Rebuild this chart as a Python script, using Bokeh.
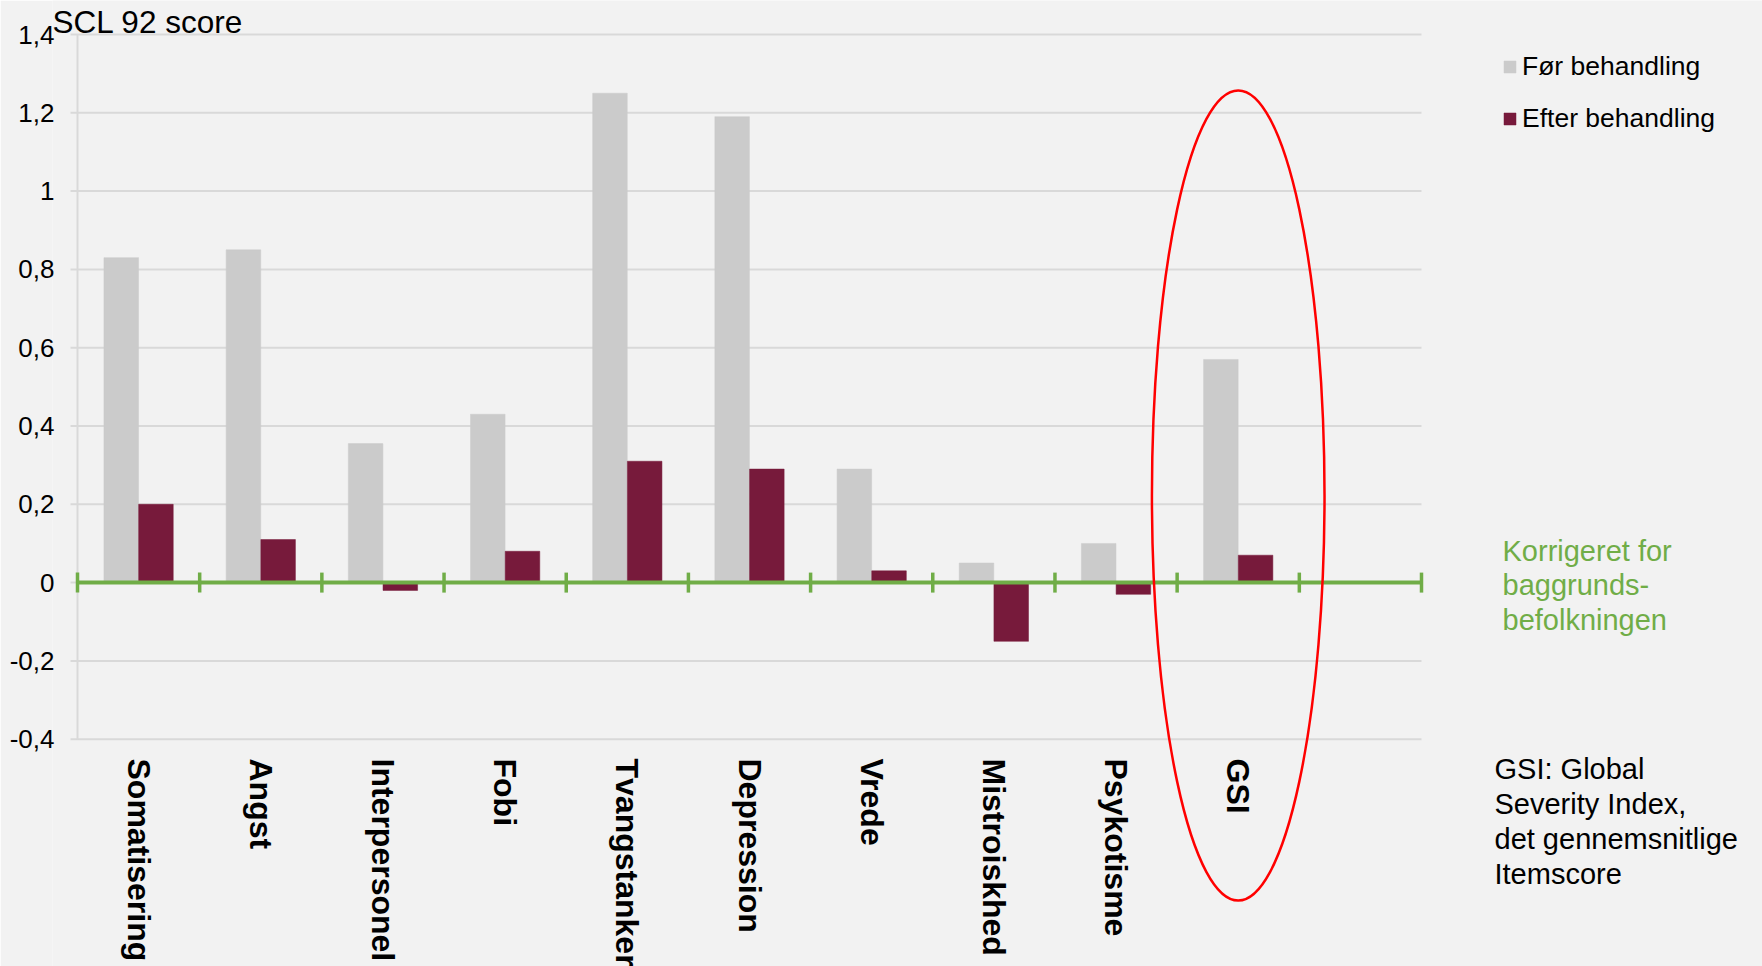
import math
from bokeh.plotting import figure
from bokeh.models import Range1d, FixedTicker, Label, Legend, LegendItem
from bokeh.core.properties import value
from bokeh.embed import file_html
from bokeh.resources import INLINE

# ---------------- data ----------------
categories = ["Somatisering", "Angst", "Interpersonel", "Fobi", "Tvangstanker",
              "Depression", "Vrede", "Mistroiskhed", "Psykotisme", "GSI"]
foer_behandling = [0.83, 0.85, 0.355, 0.43, 1.25, 1.19, 0.29, 0.05, 0.10, 0.57]
efter_behandling = [0.20, 0.11, -0.02, 0.08, 0.31, 0.29, 0.03, -0.15, -0.03, 0.07]
series_names = ["Før behandling", "Efter behandling"]
y_ticks = [-0.4, -0.2, 0.0, 0.2, 0.4, 0.6, 0.8, 1.0, 1.2, 1.4]
y_tick_labels = ["-0,4", "-0,2", "0", "0,2", "0,4", "0,6", "0,8", "1", "1,2", "1,4"]
highlight = "GSI"
n_slots = 11  # Excel category axis has one empty trailing slot

# ---------------- layout ----------------
W, H = 1762, 966
FRAME_LEFT = 52        # frame starts here so the chart title is not clipped
PLOT_LEFT = 77         # pixel column of the value axis line
PX_TOP, PX_BOT = 34.0, 738.7           # pixel rows of 1.4 and -0.4
ppu_y = (PX_BOT - PX_TOP) / (y_ticks[-1] - y_ticks[0])
ppu_x = (1421.0 - PLOT_LEFT) / n_slots
y_start = y_ticks[0] - (H - PX_BOT) / ppu_y
y_end = y_ticks[-1] + PX_TOP / ppu_y
x_start = -(PLOT_LEFT - FRAME_LEFT) / ppu_x
x_end = (W - PLOT_LEFT) / ppu_x
tick_len = 7 / ppu_x

def ydata(py):
    return y_ticks[-1] - (py - PX_TOP) / ppu_y

FONT = "Liberation Sans"
GREY = "#cbcbcb"
MAROON = "#771a3b"
GREEN = "#70ad47"
BG = "#f2f2f2"
GRID = "#d9d9d9"

p = figure(width=W, height=H, output_backend="svg", toolbar_location=None,
           x_range=Range1d(x_start, x_end), y_range=Range1d(y_start, y_end),
           min_border_left=FRAME_LEFT, min_border_right=0, min_border_top=0, min_border_bottom=0,
           background_fill_color=BG, border_fill_color=BG, outline_line_color=None)
p.xaxis.visible = False
p.xgrid.visible = False
p.ygrid.visible = False

yax = p.yaxis[0]
yax.ticker = FixedTicker(ticks=y_ticks)
yax.major_label_overrides = {t: l for t, l in zip(y_ticks, y_tick_labels)}
yax.axis_line_color = None
yax.minor_tick_line_color = None
yax.major_tick_in = 0
yax.major_tick_out = 0
yax.major_label_standoff = -2
yax.major_label_text_font = FONT
yax.major_label_text_font_size = "26px"
yax.major_label_text_color = "#000000"

# gridlines (with their short outside tick marks), limited to the category slots
p.segment(x0=[-tick_len] * len(y_ticks), x1=[n_slots] * len(y_ticks), y0=y_ticks, y1=y_ticks,
          line_color=GRID, line_width=2)
p.segment(x0=[0], x1=[0], y0=[y_ticks[0]], y1=[y_ticks[-1]], line_color=GRID, line_width=2)

idx = list(range(len(categories)))
bw = 0.283
off = 0.142
r1 = p.vbar(x=[i + 0.5 - off for i in idx], top=foer_behandling, bottom=0, width=bw,
            fill_color=GREY, line_color=GREY, line_width=0.5)
r2 = p.vbar(x=[i + 0.5 + off for i in idx], top=efter_behandling, bottom=0, width=bw,
            fill_color=MAROON, line_color=MAROON, line_width=0.5)

# green zero line with category ticks
p.segment(x0=[0], x1=[n_slots], y0=[0], y1=[0], line_color=GREEN, line_width=4)
p.scatter(x=list(range(n_slots + 1)), y=[0] * (n_slots + 1), marker="dash", angle=math.pi / 2,
          size=20, line_color=GREEN, line_width=3.5)

# category labels (rotated, reading downward)
p.text(x=[i + 0.5 for i in idx], y=[ydata(758)] * len(idx), text=categories,
       angle=-math.pi / 2, text_align="left", text_baseline="middle",
       text_font=value(FONT), text_font_style="bold", text_font_size="32px",
       text_color="#000000")

# red ellipse around GSI
gi = categories.index(highlight)
p.ellipse(x=[gi + 0.5], y=[ydata(495)], width=172.6 / ppu_x, height=810 / ppu_y,
          fill_color=None, line_color="#ff0000", line_width=2.5)

# legend
legend = Legend(items=[LegendItem(label=series_names[0], renderers=[r1]),
                       LegendItem(label=series_names[1], renderers=[r2])],
                location=(1502 - FRAME_LEFT, H - 53 - 81), orientation="vertical",
                glyph_width=15, glyph_height=15, label_height=30, label_standoff=5,
                spacing=21, padding=0, margin=0,
                label_text_font=FONT, label_text_font_size="26.5px", label_text_color="#000000",
                background_fill_alpha=0, border_line_color=None)
p.add_layout(legend)

def sx(px):
    return px - FRAME_LEFT

def sy(py):
    return H - py

p.add_layout(Label(x=sx(52), y=sy(3), x_units="screen", y_units="screen", text="SCL 92 score",
                   text_font=FONT, text_font_size="31.5px", text_color="#000000",
                   text_align="left", text_baseline="top"))
p.add_layout(Label(x=sx(1502), y=sy(534), x_units="screen", y_units="screen",
                   text="Korrigeret for\nbaggrunds-\nbefolkningen",
                   text_font=FONT, text_font_size="29px", text_color=GREEN,
                   text_align="left", text_baseline="top", text_line_height=1.08))
p.add_layout(Label(x=sx(1494), y=sy(752), x_units="screen", y_units="screen",
                   text="GSI: Global\nSeverity Index,\ndet gennemsnitlige\nItemscore",
                   text_font=FONT, text_font_size="29px", text_color="#000000",
                   text_align="left", text_baseline="top", text_line_height=1.1))

open("out.html", "w").write(file_html(p, INLINE))
